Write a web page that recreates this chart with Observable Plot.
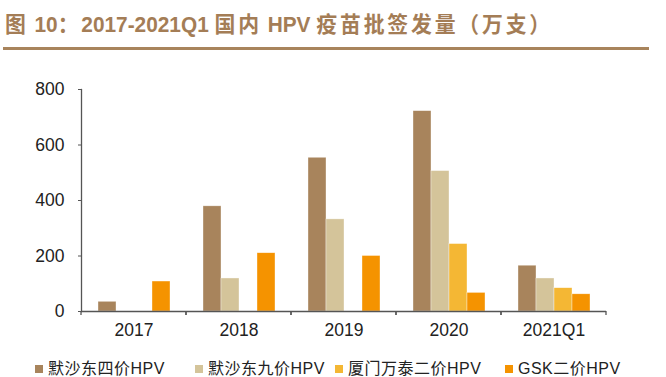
<!DOCTYPE html>
<html>
<head>
<meta charset="utf-8">
<script src="https://cdn.jsdelivr.net/npm/d3@7"></script>
<script src="https://cdn.jsdelivr.net/npm/@observablehq/plot@0.6"></script>
<style>
  html, body { margin: 0; padding: 0; background: #fff; }
  body { width: 666px; height: 377px; position: relative; overflow: hidden; font-family: "Liberation Sans", Arial, "Noto Sans CJK SC", sans-serif; }
  #title { position: absolute; left: 5px; top: 11px; font-size: 22px; line-height: 28px; font-weight: bold; color: #A47D56; white-space: nowrap; font-family: "Liberation Sans", "Noto Sans CJK SC", sans-serif; transform-origin: 0 50%; }
  #title .c { letter-spacing: 3px; }
  #rule { position: absolute; left: 3px; top: 47px; width: 646px; height: 3px; background: #A8845C; }
  #chart { position: absolute; left: 0; top: 52px; }
  .item { position: absolute; top: 358px; height: 22px; display: flex; align-items: center; white-space: nowrap; color: #222; }
  .sw { width: 8px; height: 8px; margin-right: 5px; flex: none; }
  .lab { font-family: "Liberation Sans", Arial, "Noto Sans CJK SC", sans-serif; font-size: 16px; letter-spacing: 0.5px; line-height: 22px; }
</style>
</head>
<body>
<div id="title"><span class="c">图</span> 10<span class="c">：</span>2017-2021Q1 <span class="c">国内</span> HPV <span class="c">疫苗批签发量（万支）</span></div>
<div id="rule"></div>
<div id="chart"></div>
<div id="legend"></div>
<script>
const years = ["2017", "2018", "2019", "2020", "2021Q1"];
const series = ["默沙东四价HPV", "默沙东九价HPV", "厦门万泰二价HPV", "GSK二价HPV"];
const colors = ["#A8845C", "#D4C49A", "#F4B734", "#F59300"];
const msd4 = [35, 379, 554, 722, 165];
const msd9 = [0, 119, 332, 506, 119];
const wantai2 = [0, 0, 0, 243, 84];
const gsk2 = [108, 210, 200, 67, 62];
const yTicks = [0, 200, 400, 600, 800];

const seriesValues = [msd4, msd9, wantai2, gsk2];
const data = [];
years.forEach((yr, i) => {
  series.forEach((s, j) => {
    const v = seriesValues[j][i];
    if (v > 0) data.push({year: yr, series: s, value: v});
  });
});

// fit title to the reference width
const titleEl = document.getElementById("title");
const tw = titleEl.getBoundingClientRect().width;
titleEl.style.transform = `scaleX(${548 / tw})`;

// category boundary ticks, drawn in each facet at its own edges
const boundaryTicks = (index, scales, values, dimensions) => {
  const g = d3.create("svg:g").attr("stroke", "#555").attr("stroke-width", 1.3);
  const y0 = scales.y(0);
  const left = dimensions.marginLeft;
  const right = left + scales.fx.bandwidth();
  [left, right].forEach(e => {
    g.append("line").attr("x1", e).attr("x2", e).attr("y1", y0).attr("y2", y0 + 4);
  });
  return g.node();
};

const chart = Plot.plot({
  width: 666,
  height: 300,
  marginLeft: 79,
  marginRight: 59,
  marginTop: 37,
  marginBottom: 41,
  style: {fontFamily: "Liberation Sans, Arial, sans-serif", fontSize: "17.5px", color: "#222"},
  fx: {domain: years, padding: 0, label: null},
  x: {domain: series, paddingInner: 0, paddingOuter: 0.78, axis: null},
  y: {domain: [0, 800], label: null},
  color: {domain: series, range: colors},
  marks: [
    Plot.barY(data, {fx: "year", x: "series", y: "value", fill: "series", stroke: "#fff", strokeOpacity: 0.6, strokeWidth: 0.6}),
    Plot.frame({anchor: "left", facetAnchor: "left", stroke: "#555", strokeWidth: 1.3}),
    Plot.ruleY([0], {stroke: "#555", strokeWidth: 1.3}),
    Plot.axisY({ticks: yTicks, tickSize: 3, tickPadding: 14, stroke: "#555", label: null, fontSize: 17.5}),
    Plot.axisFx({anchor: "bottom", tickSize: 0, tickPadding: 12, label: null, fontSize: 17.5}),
    boundaryTicks
  ]
});
document.getElementById("chart").appendChild(chart);

const lefts = [35, 195, 335, 505];
series.forEach((s, j) => {
  const item = document.createElement("div");
  item.className = "item";
  item.style.left = lefts[j] + "px";
  const sw = document.createElement("div");
  sw.className = "sw";
  sw.style.background = colors[j];
  item.appendChild(sw);
  const t = document.createElement("span");
  t.className = "lab";
  t.textContent = s;
  item.appendChild(t);
  document.getElementById("legend").appendChild(item);
});
</script>
</body>
</html>
